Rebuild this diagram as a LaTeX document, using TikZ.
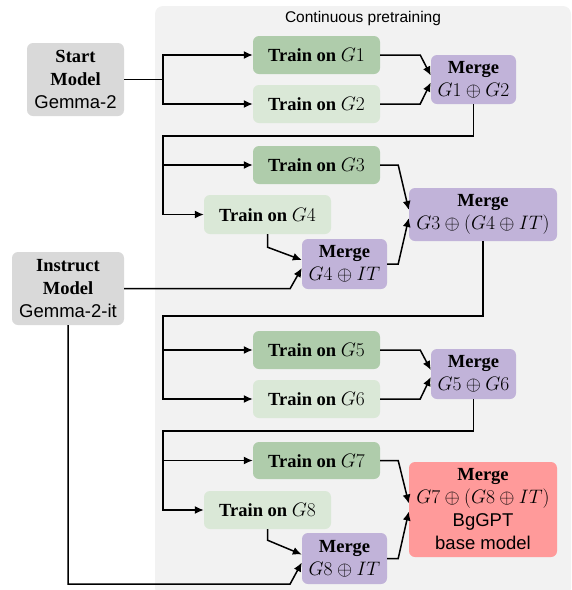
\documentclass[tikz,border=0pt]{standalone}
\usepackage{fix-cm}
\usepackage{fontspec}
\setmainfont{Liberation Serif}
\setsansfont{Liberation Sans}
\DeclareMathSizes{18.5}{19.5}{14}{10}
\usetikzlibrary{arrows.meta}
\definecolor{bgpanel}{HTML}{F2F2F2}
\definecolor{boxgray}{HTML}{D9D9D9}
\definecolor{darkgreen}{HTML}{AFCCAB}
\definecolor{lightgreen}{HTML}{DAE8D7}
\definecolor{mergepurple}{HTML}{C1B3D9}
\definecolor{finalred}{HTML}{FF9A9A}
\begin{document}
\begin{tikzpicture}[x=1pt,y=-1pt,
  base/.style={rounded corners=6pt, inner sep=0pt, align=center,
    font=\fontsize{18.5}{23}\selectfont},
  startbox/.style={base, fill=boxgray, minimum height=73pt},
  traindark/.style={base, fill=darkgreen, minimum width=127pt, minimum height=38pt},
  trainlight/.style={base, fill=lightgreen, minimum width=127pt, minimum height=38pt},
  mergebox/.style={base, fill=mergepurple, minimum height=50pt},
  finalbox/.style={base, fill=finalred, minimum width=148pt, minimum height=95pt},
  arr/.style={line width=1.5pt, -{Latex[length=9pt,width=8pt]}}]
\useasboundingbox (0,0) rectangle (572,590);
\fill[bgpanel, rounded corners=8pt] (155,6) rectangle (571,596);
\node[font=\sffamily\fontsize{15.5}{18}\selectfont] (title) at (363,18) {Continuous pretraining};

\coordinate (busx) at (163,0);
\coordinate (b2) at (163,136);
\coordinate (b3) at (163,316);
\coordinate (b4) at (163,431);

\node[startbox, minimum width=97pt] (S) at (75.5,79.5) {\textbf{Start}\\\textbf{Model}\\\sffamily Gemma-2};
\node[startbox, minimum width=112pt] (I) at (68,288.5) {\textbf{Instruct}\\\textbf{Model}\\\sffamily Gemma-2-it};

\node[traindark] (T1) at (316.5,55) {\textbf{Train on} $G1$};
\node[trainlight] (T2) at (316.5,104) {\textbf{Train on} $G2$};
\node[mergebox, minimum width=85pt, minimum height=49pt] (M12) at (473.5,79.5) {\textbf{Merge}\\$G1\oplus G2$};

\node[traindark] (T3) at (316.5,165) {\textbf{Train on} $G3$};
\node[trainlight, minimum height=39pt] (T4) at (267.5,214.5) {\textbf{Train on} $G4$};
\node[mergebox, minimum width=85pt] (M4) at (344.5,264) {\textbf{Merge}\\$G4\oplus IT$};
\node[mergebox, minimum width=148pt, minimum height=53pt] (M34) at (483,214.5) {\textbf{Merge}\\$G3\oplus(G4\oplus IT)$};

\node[traindark] (T5) at (316.5,350) {\textbf{Train on} $G5$};
\node[trainlight] (T6) at (316.5,399) {\textbf{Train on} $G6$};
\node[mergebox, minimum width=85pt] (M56) at (473.5,374) {\textbf{Merge}\\$G5\oplus G6$};

\node[traindark, minimum height=37pt] (T7) at (316.5,460.5) {\textbf{Train on} $G7$};
\node[trainlight] (T8) at (267.5,510) {\textbf{Train on} $G8$};
\node[mergebox, minimum width=85pt, minimum height=51pt] (M8) at (344.5,558.5) {\textbf{Merge}\\$G8\oplus IT$};
\node[finalbox] (R) at (483,509.5) {\textbf{Merge}\\$G7\oplus(G8\oplus IT)$\\\sffamily BgGPT\\\sffamily base model};

% stage 1
\draw[arr] (S.east) -- (S.east -| busx) |- (T1.west);
\draw[arr] (S.east -| busx) |- (T2.west);
\draw[arr] (T1.east) -- ++(40,0) -- ([yshift=4pt]M12.west);
\draw[arr] (T2.east) -- ++(40,0) -- ([yshift=-3pt]M12.west);

% stage 2
\draw[arr] (M12.south) |- (b2) |- (T4.west);
\draw[arr] (T3.west -| b2) -- (T3.west);
\draw[arr] (T4.south) -- ++(0,13) -- ([yshift=4pt]M4.west);
\draw[arr] (I.east) -- ++(166,0) -- ([yshift=-4pt]M4.west);
\draw[arr] (T3.east) -- ++(18,0) -- ([yshift=4.5pt]M34.west);
\draw[arr] (M4.east) -- ++(11,0) -- ([yshift=-3.5pt]M34.west);

% stage 3
\draw[arr] (M34.south) |- (b3) |- (T6.west);
\draw[arr] (T5.west -| b3) -- (T5.west);
\draw[arr] (T5.east) -- ++(40,0) -- ([yshift=4pt]M56.west);
\draw[arr] (T6.east) -- ++(40,0) -- ([yshift=-3pt]M56.west);

% stage 4
\draw[arr] (M56.south) |- (b4) |- (T8.west);
\draw[arr] (T7.west -| b4) -- (T7.west);
\draw[arr] (T8.south) -- ++(0,11) -- ([yshift=4pt]M8.west);
\draw[arr] (I.south) -- ++(0,259) -- ++(222,0) -- ([yshift=-4pt]M8.west);
\draw[arr] (T7.east) -- ++(18,0) -- ([yshift=6pt]R.west);
\draw[arr] (M8.east) -- ++(11,0) -- ([yshift=-2pt]R.west);
\end{tikzpicture}
\end{document}
